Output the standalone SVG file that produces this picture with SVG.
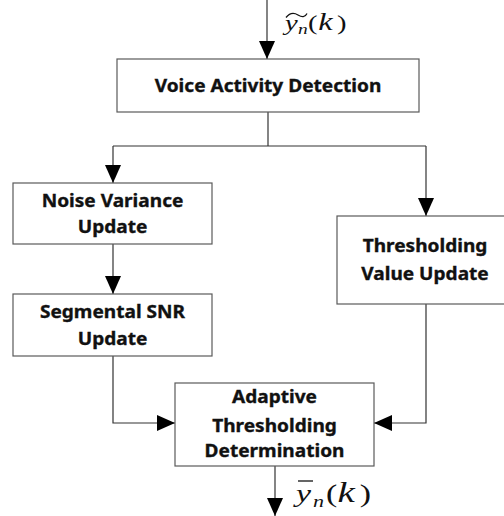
<svg xmlns="http://www.w3.org/2000/svg" width="504" height="516" viewBox="0 0 504 516">
  <style>
    .box { fill: #ffffff; stroke: #5a5a5a; stroke-width: 1.2; }
    .label { font-family: "Noto Sans", "Open Sans", "DejaVu Sans", sans-serif; font-weight: bold; font-size: 18px; fill: #111111; stroke: #111111; stroke-width: 0.35; text-anchor: middle; }
    .wire { fill: none; stroke: #333333; stroke-width: 1.2; }
    .math { font-family: "Liberation Serif", "Times New Roman", serif; fill: #111111; }
    .it { font-style: italic; }
    .accent { fill: none; stroke: #111111; stroke-width: 1.3; }
  </style>
  <defs>
    <marker id="arrow" markerWidth="18" markerHeight="16" refX="18" refY="8" orient="auto" markerUnits="userSpaceOnUse">
      <path d="M0,0 L18,8 L0,16 Z" fill="#000000"/>
    </marker>
  </defs>
  <rect width="504" height="516" fill="#ffffff"/>

  <g id="connectors">
    <!-- input into voice activity detection -->
    <line class="wire" x1="267" y1="0" x2="267" y2="59" marker-end="url(#arrow)"/>
    <!-- split from VAD to both branches -->
    <polyline class="wire" points="268,112 268,146"/>
    <polyline class="wire" points="113,146 426,146"/>
    <line class="wire" x1="113" y1="146" x2="113" y2="183" marker-end="url(#arrow)"/>
    <line class="wire" x1="426" y1="146" x2="426" y2="216" marker-end="url(#arrow)"/>
    <!-- noise variance to segmental SNR -->
    <line class="wire" x1="113" y1="244" x2="113" y2="294" marker-end="url(#arrow)"/>
    <!-- into adaptive thresholding -->
    <polyline class="wire" points="113,356 113,423 175,423" marker-end="url(#arrow)"/>
    <polyline class="wire" points="426,304 426,423 374,423" marker-end="url(#arrow)"/>
    <!-- output -->
    <line class="wire" x1="275" y1="466" x2="275" y2="516" marker-end="url(#arrow)"/>
  </g>

  <g id="input-label">
    <path class="accent" d="M286,17.5 C290,12.5 294,12.5 298,15 C302,17.5 305,17.5 307,13.5"/>
    <text class="math" font-size="22" transform="translate(285 30) scale(1.3 1)"><tspan class="it" x="0" y="0">y</tspan><tspan class="it" x="10" y="4" font-size="15">n</tspan><tspan x="17.7" y="0">(</tspan><tspan class="it" x="25.5" font-size="25">k</tspan><tspan x="40">)</tspan></text>
  </g>

  <g id="vad">
    <rect class="box" x="117" y="59" width="302" height="53"/>
    <text class="label" transform="translate(268 92) scale(1.06 1)">Voice Activity Detection</text>
  </g>

  <g id="noise-variance">
    <rect class="box" x="13" y="183" width="199" height="61"/>
    <text class="label" transform="translate(112.5 207) scale(1.06 1)">Noise Variance</text>
    <text class="label" transform="translate(112.5 233) scale(1.06 1)">Update</text>
  </g>

  <g id="segmental-snr">
    <rect class="box" x="13" y="294" width="199" height="62"/>
    <text class="label" transform="translate(112.5 318) scale(1.06 1)">Segmental SNR</text>
    <text class="label" transform="translate(112.5 345) scale(1.06 1)">Update</text>
  </g>

  <g id="threshold-value">
    <rect class="box" x="337" y="216" width="170" height="88"/>
    <text class="label" transform="translate(425 252) scale(1.06 1)">Thresholding</text>
    <text class="label" transform="translate(425 280) scale(1.06 1)">Value Update</text>
  </g>

  <g id="adaptive-thresholding">
    <rect class="box" x="175" y="383" width="199" height="83"/>
    <text class="label" transform="translate(274.5 403) scale(1.06 1)">Adaptive</text>
    <text class="label" transform="translate(274.5 432) scale(1.06 1)">Thresholding</text>
    <text class="label" transform="translate(274.5 457) scale(1.06 1)">Determination</text>
  </g>

  <g id="output-label">
    <line class="accent" x1="298" y1="481" x2="313" y2="481"/>
    <text class="math" font-size="26" transform="translate(296 502) scale(1.3 1)"><tspan class="it" x="0" y="0">y</tspan><tspan class="it" x="13" y="5" font-size="17">n</tspan><tspan x="23" y="0">(</tspan><tspan class="it" x="32" font-size="30">k</tspan><tspan x="49">)</tspan></text>
  </g>
</svg>
